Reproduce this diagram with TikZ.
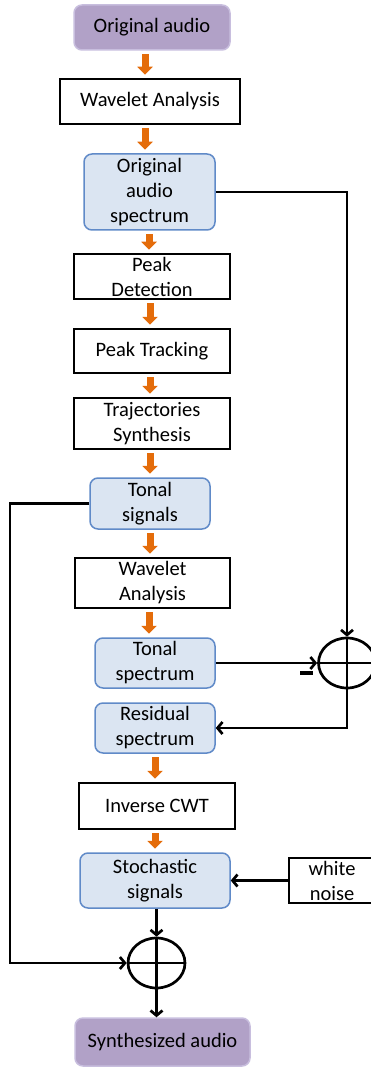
\documentclass[tikz,border=0pt]{standalone}
\usepackage{fontspec}
\setmainfont{Carlito}
\usetikzlibrary{arrows.meta,shapes.geometric,calc}
\definecolor{oarr}{RGB}{228,108,10}
\definecolor{bfill}{RGB}{219,229,242}
\definecolor{bline}{RGB}{96,138,200}
\definecolor{pfill}{RGB}{177,161,199}
\definecolor{pline}{RGB}{200,190,222}
\tikzset{
  every node/.style={font=\fontsize{20.5}{25}\selectfont, align=center, inner sep=0pt},
  rectbox/.style={draw=black, line width=1.5pt, fill=white, minimum width=#1},
  bluebox/.style={draw=bline, line width=1.5pt, fill=bfill, rounded corners=8pt, minimum width=#1},
  purplebox/.style={draw=pline, line width=1.5pt, fill=pfill, rounded corners=8pt, minimum width=#1},
  oarrow/.style={draw=oarr, line width=7pt, -{Triangle[width=15pt,length=8pt]}, shorten <=3.5pt, shorten >=3.5pt},
  conn/.style={draw=black, line width=2.7pt, -{Straight Barb[length=5pt,width=12pt]}},
  plain/.style={draw=black, line width=2.7pt},
  summer/.style={ellipse, draw=black, line width=2.7pt, minimum width=57pt, minimum height=50pt}
}
\begin{document}
\begin{tikzpicture}[x=1pt,y=-1pt]
\useasboundingbox (0,0) rectangle (371,1067);
\clip (0,0) rectangle (371,1067);
% nodes
\node[purplebox=156pt, minimum height=45pt] (oa) at (152,27.5) {Original audio};
\node[rectbox=180pt, minimum height=45pt] (wa1) at (150,101.5) {Wavelet Analysis};
\node[bluebox=131pt, minimum height=76pt] (oas) at (149.5,192) {Original\\audio\\spectrum};
\node[rectbox=156pt, minimum height=45pt] (pd) at (152,276.5) {Peak\\Detection};
\node[rectbox=156pt, minimum height=44pt] (pt) at (152,351) {Peak Tracking};
\node[rectbox=156pt, minimum height=51pt] (ts) at (152,423.5) {Trajectories\\Synthesis};
\node[bluebox=120pt, minimum height=51pt] (tsig) at (150,503.5) {Tonal\\signals};
\node[rectbox=155pt, minimum height=50pt] (wa2) at (152.5,583) {Wavelet\\Analysis};
\node[bluebox=120pt, minimum height=50pt] (tspec) at (155,663) {Tonal\\spectrum};
\node[bluebox=120pt, minimum height=50pt] (rspec) at (155,728) {Residual\\spectrum};
\node[rectbox=156pt, minimum height=46pt] (icwt) at (157,806) {Inverse CWT};
\node[bluebox=150pt, minimum height=55pt] (stoch) at (155,880.5) {Stochastic\\signals};
\node[rectbox=86pt, minimum height=45pt] (wn) at (332,880.5) {white\\noise};
\node[purplebox=175pt, minimum height=48pt] (sa) at (162.5,1042) {Synthesized audio};
\node[summer] (s1) at (347,663) {};
\node[summer] (s2) at (156.5,963) {};
\node (minus) at (306.5,673) {\rule{13pt}{3.5pt}};
\coordinate (lc) at (10,963);
% orange arrows
\draw[oarrow] (oa.south -| 145,0) -- (wa1.north -| 145,0);
\draw[oarrow] (wa1.south -| 145,0) -- (oas.north -| 145,0);
\draw[oarrow] (oas.south -| 149,0) -- (pd.north -| 149,0);
\draw[oarrow] (pd.south -| 150,0) -- (pt.north -| 150,0);
\draw[oarrow] (pt.south -| 150,0) -- (ts.north -| 150,0);
\draw[oarrow] (ts.south -| 150,0) -- (tsig.north -| 150,0);
\draw[oarrow] (tsig.south -| 150,0) -- (wa2.north -| 150,0);
\draw[oarrow] (wa2.south -| 149,0) -- (tspec.north -| 149,0);
\draw[oarrow] (rspec.south -| 155,0) -- (icwt.north -| 155,0);
\draw[oarrow] (icwt.south -| 155,0) -- (stoch.north -| 155,0);
% summers crosshair
\draw[plain] (s1.north) -- (s1.south);
\draw[plain] (s1.west) -- (s1.east);
\draw[plain] (s2.north) -- (s2.south);
\draw[plain] (s2.west) -- (s2.east);
% black connectors
\draw[conn] (oas.east) -| (s1.north);
\draw[conn] (tspec.east) -- (s1.west);
\draw[conn] (s1.south) |- (rspec.east);
\draw[conn] (tsig.west) -| (lc) -- (s2.west);
\draw[conn] (wn.west) -- (stoch.east);
\draw[conn] (stoch.south -| s2.north) -- (s2.north);
\draw[conn] (s2.south) -- (s2.south |- sa.north);
\end{tikzpicture}
\end{document}
